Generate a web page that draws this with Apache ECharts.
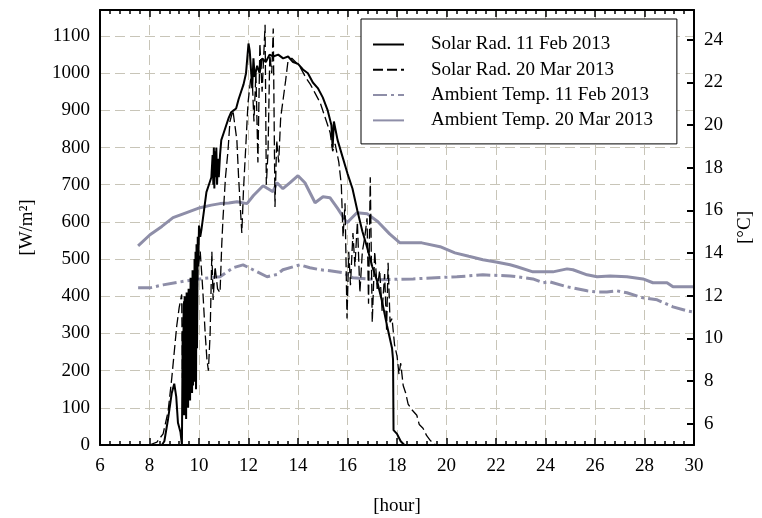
<!DOCTYPE html>
<html>
<head>
<meta charset="utf-8">
<script src="https://cdn.jsdelivr.net/npm/echarts@6/dist/echarts.min.js"></script>
<style>
html,body{margin:0;padding:0;background:#fff;}
#chart{width:762px;height:518px;}
</style>
</head>
<body>
<div id="chart"></div>
<script>
// ---- Data ----
const legendNames = ['Solar Rad. 11 Feb 2013', 'Solar Rad. 20 Mar 2013', 'Ambient Temp. 11 Feb 2013', 'Ambient Temp. 20 Mar 2013'];
const xTicks = [6, 8, 10, 12, 14, 16, 18, 20, 22, 24, 26, 28, 30];
const tempTicks = [6, 8, 10, 12, 14, 16, 18, 20, 22, 24];

const solarFebHours = [8.5, 8.6, 8.75, 8.9, 9.0, 9.08, 9.15, 9.25, 9.30, 9.31,
  9.34, 9.36, 9.38, 9.40, 9.42, 9.44, 9.46, 9.48, 9.50, 9.52, 9.54, 9.56, 9.58, 9.60, 9.62, 9.64, 9.66, 9.68, 9.70, 9.72, 9.74, 9.76, 9.78, 9.80, 9.82, 9.84, 9.86, 9.88, 9.90, 9.92, 9.95, 9.97, 10.0,
  10.05, 10.1, 10.2, 10.3, 10.4, 10.5, 10.55, 10.58, 10.6, 10.62, 10.65, 10.68, 10.7, 10.73, 10.76, 10.8, 10.85, 10.9, 11.0, 11.1, 11.2, 11.3, 11.4, 11.5, 11.6, 11.7, 11.8, 11.9,
  12.0, 12.05, 12.1, 12.15, 12.2, 12.25, 12.35, 12.45, 12.55, 12.7, 12.85, 13.0, 13.2, 13.4, 13.6, 13.8, 14.0, 14.2, 14.4, 14.6, 14.8, 15.0, 15.2, 15.35, 15.4, 15.45, 15.6, 15.8,
  16.0, 16.2, 16.4, 16.6, 16.8, 17.0, 17.2, 17.4, 17.6, 17.8, 17.84, 17.86, 18.0, 18.15, 18.3];
const solarFebValues = [0, 10, 70, 140, 165, 130, 60, 35, 40, 0,
  300, 90, 380, 80, 400, 120, 330, 70, 410, 110, 360, 100, 420, 130, 380, 120, 450, 150, 400, 140, 470, 160, 430, 180, 500, 170, 520, 150, 540, 260, 560, 480, 590,
  560, 580, 630, 680, 700, 720, 780, 700, 800, 690, 790, 720, 800, 700, 770, 720, 780, 820, 840, 860, 880, 895, 900, 905, 930, 950, 970, 1000,
  1080, 1060, 1010, 960, 1040, 990, 1020, 1000, 1040, 1030, 1050, 1045, 1050, 1040, 1045, 1030, 1025, 1010, 1000, 975, 960, 935, 900, 860, 800, 870, 820, 775,
  730, 690, 630, 575, 530, 480, 440, 385, 320, 260, 230, 40, 30, 10, 0];

const solarMarHours = [8.0, 8.3, 8.55, 8.75, 8.9, 9.0, 9.1, 9.2, 9.3, 9.33, 9.38, 9.45, 9.52, 9.58, 9.65, 9.72, 9.8, 9.88, 9.95,
  10.05, 10.15, 10.25, 10.32, 10.38, 10.45, 10.52, 10.57, 10.65, 10.75, 10.85, 10.92, 10.97, 11.07, 11.17, 11.25, 11.37, 11.45, 11.53, 11.6, 11.66, 11.73, 11.8, 11.88, 11.98,
  12.08, 12.14, 12.22, 12.3, 12.38, 12.46, 12.55, 12.67, 12.72, 12.79, 12.86, 12.94, 13.0, 13.07, 13.14, 13.22, 13.3, 13.4, 13.5, 13.6, 13.75, 13.9,
  14.1, 14.3, 14.5, 14.7, 14.9, 15.1, 15.3, 15.4, 15.5, 15.65, 15.75, 15.82, 15.9, 15.98, 16.05, 16.12, 16.22, 16.3, 16.4, 16.5, 16.6, 16.7, 16.79, 16.85, 16.92,
  17.0, 17.1, 17.2, 17.3, 17.4, 17.5, 17.58, 17.64, 17.72, 17.8, 17.9, 18.0, 18.08, 18.15, 18.25, 18.35, 18.45, 18.6, 18.8, 18.9, 19.05, 19.2, 19.35, 19.5, 19.6];
const solarMarValues = [0, 8, 30, 90, 180, 250, 320, 370, 405, 180, 390, 140, 400, 160, 390, 200, 420, 260, 470,
  520, 420, 300, 230, 200, 300, 520, 390, 480, 420, 410, 540, 610, 720, 790, 870, 900, 860, 820, 720, 650, 570, 690, 790, 920,
  980, 1000, 870, 1000, 760, 1080, 950, 1130, 700, 790, 1050, 1000, 1120, 640, 820, 760, 880, 930, 980, 1035, 1040, 1030,
  1015, 990, 970, 945, 920, 880, 840, 790, 810, 760, 700, 560, 650, 340, 520, 430, 570, 480, 600, 410, 520, 560, 610, 380, 720,
  330, 520, 420, 470, 360, 460, 310, 490, 330, 340, 270, 240, 190, 220, 160, 140, 110, 95, 80, 55, 45, 25, 12, 3, 0];

const tempFebHours = [7.54, 8.02, 8.55, 9.5, 10.04, 10.85, 11.38, 11.78, 12.18, 12.75, 13.15, 13.39, 14.08, 14.48, 14.89, 15.29, 15.82, 16.22, 17.31, 18.65,
  20.42, 21.47, 22.57, 22.85, 23.49, 23.9, 24.18, 24.87, 25.68, 26.08, 26.48, 26.89, 27.29, 27.94, 28.51, 29.15, 29.72, 29.96];
const tempFebValues = [12.37, 12.37, 12.51, 12.70, 12.79, 12.89, 13.31, 13.45, 13.22, 12.89, 13.0, 13.22, 13.45, 13.31, 13.22, 13.17, 13.08, 12.84, 12.75, 12.79,
  12.89, 12.98, 12.93, 12.89, 12.79, 12.61, 12.65, 12.42, 12.23, 12.18, 12.18, 12.23, 12.14, 11.90, 11.81, 11.48, 11.29, 11.24];

const tempMarHours = [7.54, 8.02, 8.5, 8.95, 9.5, 10.04, 10.5, 10.85, 11.2, 11.54, 11.94, 12.2, 12.59, 12.99, 13.15, 13.39, 13.68, 14.0, 14.28, 14.69, 15.01, 15.29, 15.6, 15.98,
  16.38, 16.79, 17.23, 17.7, 18.12, 19.0, 19.74, 20.34, 20.9, 21.47, 22.0, 22.57, 22.85, 23.49, 24.3, 24.87, 25.11, 25.68, 26.08, 26.61, 27.29, 27.94, 28.34, 28.91, 29.15, 29.96];
const tempMarValues = [14.34, 14.86, 15.25, 15.66, 15.9, 16.13, 16.25, 16.32, 16.35, 16.41, 16.32, 16.7, 17.16, 16.88, 17.30, 17.02, 17.30, 17.63, 17.30, 16.36, 16.64, 16.60, 16.1, 15.42,
  15.89, 15.85, 15.47, 14.9, 14.48, 14.48, 14.30, 14.01, 13.85, 13.69, 13.58, 13.45, 13.36, 13.12, 13.12, 13.26, 13.22, 12.98, 12.89, 12.93, 12.89, 12.79, 12.61, 12.61, 12.42, 12.42];

// ---- Build ----
function zip(h, v) { return h.map((x, i) => [x, v[i]]); }
const FONT = 'Liberation Serif';
const GRID_COLOR = '#c8c5b8';
const TEMP_COLOR = '#8e8ea8';

const chart = echarts.init(document.getElementById('chart'), null, { renderer: 'canvas' });
const labelStyle = { color: '#000', fontSize: 19, fontFamily: FONT };
const plainFmt = v => String(v);

chart.setOption({
  animation: false,
  backgroundColor: '#fff',
  grid: { left: 100, right: 68, top: 10, bottom: 73, outerBoundsMode: 'none' },
  legend: {
    data: legendNames,
    orient: 'vertical',
    left: 361,
    top: 19,
    itemWidth: 31,
    itemHeight: 14,
    itemGap: 6.3,
    padding: [16, 24, 14, 11],
    borderColor: '#000',
    borderWidth: 1,
    borderRadius: 0,
    backgroundColor: '#fff',
    itemStyle: { opacity: 0 },
    textStyle: { color: '#000', fontSize: 19, fontFamily: FONT, padding: [0, 0, 0, 22] },
    selectedMode: false
  },
  xAxis: [
    {
      type: 'value', min: 6, max: 30, interval: 2, position: 'bottom',
      name: '[hour]', nameLocation: 'middle', nameGap: 52,
      nameTextStyle: labelStyle,
      axisLine: { show: true, onZero: false, lineStyle: { color: '#000', width: 2 } },
      axisTick: { show: true, inside: true, length: 7, lineStyle: { color: '#000', width: 1.5 } },
      minorTick: { show: true, splitNumber: 5, length: 4, lineStyle: { color: '#000', width: 1.5 } },
      axisLabel: Object.assign({ margin: 12, formatter: plainFmt }, labelStyle),
      splitLine: { show: true, lineStyle: { color: GRID_COLOR, type: [10, 5], width: 1 } }
    },
    {
      type: 'value', min: 6, max: 30, interval: 2, position: 'top',
      axisLine: { show: true, onZero: false, lineStyle: { color: '#000', width: 2 } },
      axisTick: { show: true, inside: true, length: 7, lineStyle: { color: '#000', width: 1.5 } },
      minorTick: { show: true, splitNumber: 5, length: 4, lineStyle: { color: '#000', width: 1.5 } },
      axisLabel: { show: false },
      splitLine: { show: false }
    }
  ],
  yAxis: [
    {
      type: 'value', min: 0, max: 1170, interval: 100, position: 'left',
      name: '[W/m²]', nameLocation: 'middle', nameGap: 63, nameRotate: 90,
      nameTextStyle: labelStyle,
      axisLine: { show: true, onZero: false, lineStyle: { color: '#000', width: 2 } },
      axisTick: { show: false },
      axisLabel: Object.assign({ margin: 10, showMaxLabel: false, formatter: plainFmt }, labelStyle),
      splitLine: { show: true, lineStyle: { color: GRID_COLOR, type: [10, 5], width: 1 } }
    },
    {
      type: 'value', min: 5, max: 25.4, position: 'right',
      name: '[°C]', nameLocation: 'middle', nameGap: 42, nameRotate: 90,
      nameTextStyle: labelStyle,
      axisLine: { show: true, onZero: false, lineStyle: { color: '#000', width: 2 } },
      axisTick: { show: true, inside: true, length: 7, customValues: tempTicks, lineStyle: { color: '#000', width: 2 } },
      axisLabel: Object.assign({ margin: 10, customValues: tempTicks, formatter: plainFmt }, labelStyle),
      splitLine: { show: false }
    }
  ],
  series: [
    {
      name: legendNames[2], type: 'line', xAxisIndex: 0, yAxisIndex: 1, showSymbol: false,
      data: zip(tempFebHours, tempFebValues),
      lineStyle: { color: TEMP_COLOR, width: 3, type: [14, 4, 3, 4] }, itemStyle: { color: TEMP_COLOR }
    },
    {
      name: legendNames[3], type: 'line', xAxisIndex: 0, yAxisIndex: 1, showSymbol: false,
      data: zip(tempMarHours, tempMarValues),
      lineStyle: { color: TEMP_COLOR, width: 3, type: 'solid' }, itemStyle: { color: TEMP_COLOR }
    },
    {
      name: legendNames[1], type: 'line', xAxisIndex: 0, yAxisIndex: 0, showSymbol: false,
      data: zip(solarMarHours, solarMarValues),
      lineStyle: { color: '#000', width: 1.3, type: [10, 4] }, itemStyle: { color: '#000' }
    },
    {
      name: legendNames[0], type: 'line', xAxisIndex: 0, yAxisIndex: 0, showSymbol: false,
      data: zip(solarFebHours, solarFebValues),
      lineStyle: { color: '#000', width: 2, type: 'solid' }, itemStyle: { color: '#000' }
    }
  ]
});
</script>
</body>
</html>
